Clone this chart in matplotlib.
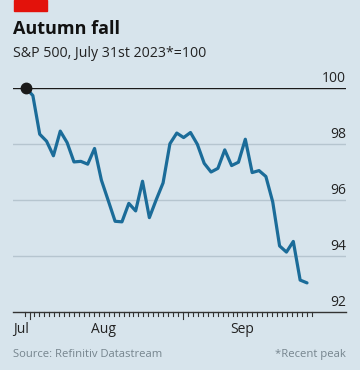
import matplotlib
matplotlib.use("Agg")
import matplotlib.pyplot as plt
import numpy as np
import datetime as dt

dates = ["2023-07-31",
         "2023-08-01", "2023-08-02", "2023-08-03", "2023-08-04",
         "2023-08-07", "2023-08-08", "2023-08-09", "2023-08-10", "2023-08-11",
         "2023-08-14", "2023-08-15", "2023-08-16", "2023-08-17", "2023-08-18",
         "2023-08-21", "2023-08-22", "2023-08-23", "2023-08-24", "2023-08-25",
         "2023-08-28", "2023-08-29", "2023-08-30", "2023-08-31", "2023-09-01",
         "2023-09-05", "2023-09-06", "2023-09-07", "2023-09-08",
         "2023-09-11", "2023-09-12", "2023-09-13", "2023-09-14", "2023-09-15",
         "2023-09-18", "2023-09-19", "2023-09-20", "2023-09-21", "2023-09-22",
         "2023-09-25", "2023-09-26", "2023-09-27"]
values = [100.0,
          99.73, 98.35, 98.10, 97.58,
          98.46, 98.05, 97.36, 97.38, 97.28,
          97.84, 96.71, 95.98, 95.24, 95.22,
          95.88, 95.61, 96.67, 95.37, 96.01,
          96.61, 98.01, 98.39, 98.23, 98.41,
          97.99, 97.31, 97.00, 97.13,
          97.79, 97.23, 97.35, 98.17, 96.98,
          97.05, 96.84, 95.93, 94.36, 94.14,
          94.52, 93.14, 93.04]
yticks = [92, 94, 96, 98, 100]
month_labels = ["Jul", "Aug", "Sep"]

BG = "#d7e4ec"
BLUE = "#1b6c99"
GRID = "#b6c5cf"

# trading-day positions
x = np.arange(len(values))

fig = plt.figure(figsize=(3.6, 3.7), dpi=100, facecolor=BG)
W, H = 360, 370
left, right, top_px, bot_px = 13, 346, 88, 312
ax = fig.add_axes([left / W, 1 - bot_px / H, (right - left) / W, (bot_px - top_px) / H])
ax.set_facecolor(BG)
p_first, p_last = 26, 307
ppt = (p_last - p_first) / (len(values) - 1)   # px per trading day
ax.set_xlim((left - p_first) / ppt, (right - p_first) / ppt)
ax.set_ylim(92, 100)

for s in ax.spines.values():
    s.set_visible(False)
ax.set_xticks([])
ax.set_yticks([])

for yv in yticks:
    if yv == 100:
        ax.axhline(yv, color="#1a1a1a", lw=1.0, zorder=2)
    elif yv == 92:
        ax.axhline(yv, color="#333333", lw=1.0, zorder=2, clip_on=False)
    else:
        ax.axhline(yv, color=GRID, lw=1.0, zorder=1)
    ax.text(1.0, yv + 0.08, str(yv), transform=ax.get_yaxis_transform(), ha="right",
            va="bottom", fontsize=10, color="#222222", family="Open Sans")

ax.plot(x, values, color=BLUE, lw=2.3, zorder=3, solid_joinstyle="round",
        solid_capstyle="round", clip_on=False)
ax.plot([x[0]], [values[0]], "o", color="#1a1a1a", ms=7.5, zorder=4, clip_on=False)

# daily calendar ticks (Aug 1 at ~29.5px, Sep 1 at ~183px)
trans = ax.get_xaxis_transform()
ax_h_px = bot_px - top_px
aug1_px, ppd = 29.5, (183 - 29.5) / 31


def day_pos(d):
    px = aug1_px + (d - dt.date(2023, 8, 1)).days * ppd
    return (px - p_first) / ppt


start = dt.date(2023, 7, 31)
for i in range(59):
    d = start + dt.timedelta(days=i)
    xn = day_pos(d)
    length = 7 if d.day == 1 else 4
    ax.plot([xn, xn], [0, -length / ax_h_px], color="#333333", lw=0.8,
            transform=trans, clip_on=False)

ax.text(0.0, -10 / ax_h_px, month_labels[0], transform=ax.transAxes, ha="left", va="top",
        fontsize=10, color="#222222", family="Open Sans")
ax.text(day_pos(dt.date(2023, 8, 16)), -10 / ax_h_px, month_labels[1], transform=trans,
        ha="center", va="top", fontsize=10, color="#222222", family="Open Sans")
ax.text(day_pos(dt.date(2023, 9, 13)), -10 / ax_h_px, month_labels[2], transform=trans,
        ha="center", va="top", fontsize=10, color="#222222", family="Open Sans")

# header
fig.patches.append(plt.Rectangle((14 / W, 1 - 11 / H), 33 / W, 11 / H,
                                 transform=fig.transFigure, color="#e3120b"))
fig.text(13 / W, 1 - 34 / H, "Autumn fall", fontsize=13, fontweight="bold",
         family="Open Sans", color="#111111", ha="left", va="baseline")
fig.text(13 / W, 1 - 57 / H, "S&P 500, July 31st 2023*=100", fontsize=10.2,
         family="Open Sans", color="#222222", ha="left", va="baseline")
fig.text(13 / W, 1 - 357 / H, "Source: Refinitiv Datastream", fontsize=8.1,
         family="Open Sans", color="#76858e", ha="left", va="baseline")
fig.text(346 / W, 1 - 357 / H, "*Recent peak", fontsize=8.1,
         family="Open Sans", color="#76858e", ha="right", va="baseline")

fig.savefig("out.png", dpi=100, facecolor=BG)
